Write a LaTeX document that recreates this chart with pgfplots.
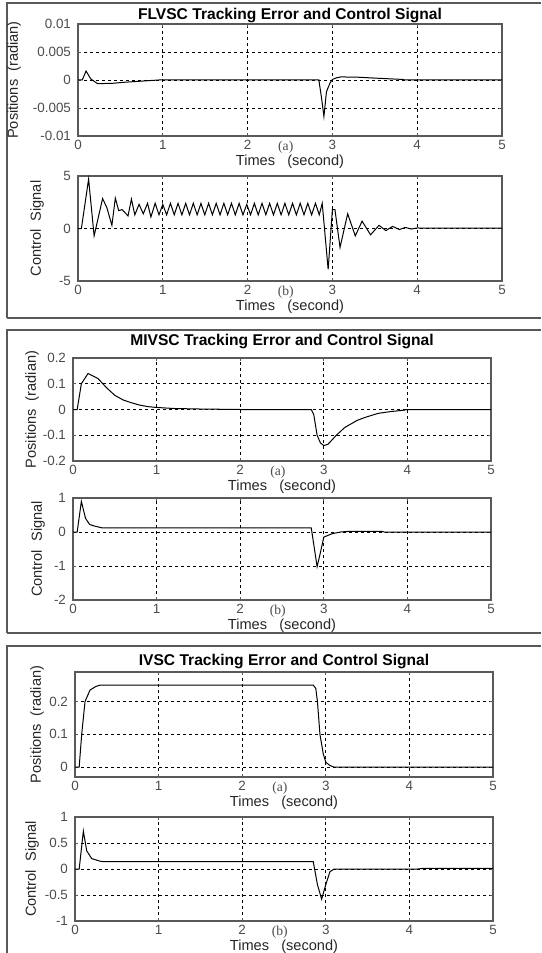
\documentclass[border=0pt]{standalone}
\usepackage{pgfplots}
\pgfplotsset{compat=1.18}
\usepackage{fontspec}
\setmainfont{Liberation Sans}
\newfontfamily\seriffont{Liberation Serif}
\definecolor{frame}{gray}{0.35}
\definecolor{tl}{gray}{0.3}
\pgfplotsset{
  every axis title/.style={at={(0.5,1)}, anchor=center, font=\bfseries\fontsize{7.8}{9}\selectfont},
  ms/.style={
    scale only axis,
    scaled y ticks=false,
    xmin=0, xmax=5,
    xtick={0,1,2,3,4,5},
    xticklabels={0,1,2,3,4,5},
    grid=major,
    grid style={black, dashed, line width=0.4pt, dash pattern=on 1.5pt off 1.5pt},
    axis line style={frame, line width=0.7pt},
    major tick length=1.5pt,
    tick style={frame, line width=0.4pt},
    tick align=inside,
    ticklabel style={font=\fontsize{6.7}{8}\selectfont, text=tl},
    xticklabel style={yshift=1.5pt},
    label style={font=\fontsize{7.3}{8.5}\selectfont, text=black!85},
    xlabel={Times\ \ \ (second)},
    xlabel style={yshift=4pt},
    clip=false,
    anchor=north west,
  },
  yl/.style={ylabel style={at={(rel axis cs:0,0.5)}, anchor=center, yshift=#1}},
  cur/.style={black, line width=0.5pt, mark=none},
}
\newcommand{\tag}[1]{\node[font=\seriffont\fontsize{6.8}{7}\selectfont, text=tl, anchor=north] at (rel axis cs:0.49,0) [yshift=1pt] {#1};}
\begin{document}
\begin{tikzpicture}
\useasboundingbox (0,0) rectangle (270.5pt,-476.5pt);
% panel boxes
\draw[frame, line width=0.7pt] (3.5pt,-159pt) -- (3.5pt,-1.5pt) -- (270.5pt,-1.5pt);
\draw[frame, line width=0.7pt] (3.5pt,-159pt) -- (270.5pt,-159pt);
\draw[frame, line width=0.7pt] (3.5pt,-316.5pt) -- (3.5pt,-165pt) -- (270.5pt,-165pt);
\draw[frame, line width=0.7pt] (3.5pt,-316.5pt) -- (270.5pt,-316.5pt);
\draw[frame, line width=0.7pt] (3.5pt,-476.5pt) -- (3.5pt,-323pt) -- (270.5pt,-323pt);

% ===== Panel 1 (a)
\begin{axis}[ms, at={(39pt,-12pt)}, width=212pt, height=56pt, yl=32pt,
  title={FLVSC Tracking Error and Control Signal},
  title style={yshift=4.25pt},
  ymin=-0.01, ymax=0.01, ytick={-0.01,-0.005,0,0.005,0.01},
  yticklabels={-0.01,-0.005,0,0.005,0.01},
  ylabel={Positions\ \ (radian)}]
\addplot[cur] coordinates {
(0,0) (0.05,0) (0.095,0.0016) (0.15,0.0002) (0.23,-0.00065) (0.4,-0.0006) (0.55,-0.0004)
(0.75,-0.0002) (0.95,0) (1.5,0) (2.84,0) (2.87,-0.003) (2.90,-0.0065) (2.93,-0.0021)
(2.97,-0.0006) (3.0,0.0001) (3.05,0.0004) (3.1,0.00055) (3.3,0.0005) (3.55,0.0003)
(3.83,0.0001) (3.85,0) (5,0)};
\tag{(a)}
\end{axis}

% ===== Panel 1 (b)
\begin{axis}[ms, at={(39pt,-88pt)}, width=212pt, height=52.5pt, yl=20.5pt,
  ymin=-5, ymax=5, ytick={-5,0,5}, yticklabels={-5,0,5},
  ylabel={Control\ \ Signal}]
\addplot[cur] coordinates {
(0,0) (0.04,0) (0.125,4.7) (0.19,-0.7) (0.29,2.85) (0.34,2.0) (0.40,0.3) (0.44,2.9)
(0.48,1.7) (0.52,1.8) (0.59,1.2) (0.63,2.8) (0.67,1.3) (0.72,2.3) (0.77,1.4) (0.82,2.4)
(0.86,1.1) (0.91,2.4) (0.955,1.3) (1.00,2.3) (1.045,1.3) (1.09,2.4) (1.135,1.3)
(1.18,2.4) (1.225,1.3) (1.27,2.4) (1.315,1.3) (1.36,2.4) (1.405,1.3) (1.45,2.4)
(1.495,1.3) (1.54,2.4) (1.585,1.3) (1.63,2.4) (1.675,1.3) (1.72,2.4) (1.765,1.3)
(1.81,2.4) (1.855,1.3) (1.90,2.4) (1.945,1.3) (1.99,2.3) (2.035,1.3) (2.08,2.4)
(2.125,1.3) (2.17,2.4) (2.215,1.3) (2.26,2.4) (2.305,1.3) (2.35,2.4) (2.395,1.3)
(2.44,2.4) (2.485,1.3) (2.53,2.4) (2.575,1.3) (2.62,2.4) (2.665,1.3) (2.71,2.4)
(2.755,1.3) (2.80,2.4) (2.845,1.3) (2.88,2.4) (2.95,-3.9) (3.00,1.8) (3.03,1.8)
(3.09,-1.8) (3.18,1.4) (3.27,-0.7) (3.35,0.7) (3.45,-0.6) (3.55,0.3) (3.63,-0.2)
(3.71,0.2) (3.79,-0.1) (3.86,0.1) (3.93,-0.05) (4.0,0.05) (4.2,0.03) (5,0.03)};
\tag{(b)}
\end{axis}

% ===== Panel 2 (a)
\begin{axis}[ms, at={(36.5pt,-179pt)}, width=209pt, height=51.5pt, yl=20.5pt,
  title={MIVSC Tracking Error and Control Signal},
  title style={yshift=8.25pt},
  ymin=-0.2, ymax=0.2, ytick={-0.2,-0.1,0,0.1,0.2},
  yticklabels={-0.2,-0.1,0,0.1,0.2},
  ylabel={Positions\ \ (radian)}]
\addplot[cur] coordinates {
(0,0) (0.05,0) (0.1,0.1) (0.18,0.14) (0.3,0.12) (0.4,0.085) (0.5,0.055) (0.6,0.037)
(0.7,0.026) (0.8,0.017) (0.9,0.011) (1.0,0.008) (1.2,0.004) (1.5,0.002) (2.0,0)
(2.85,0) (2.88,-0.02) (2.92,-0.1) (2.96,-0.13) (3.0,-0.14) (3.05,-0.135) (3.15,-0.1)
(3.25,-0.07) (3.4,-0.042) (3.5,-0.03) (3.65,-0.015) (3.8,-0.008) (3.95,-0.003) (4.0,0) (5,0)};
\tag{(a)}
\end{axis}

% ===== Panel 2 (b)
\begin{axis}[ms, at={(36.5pt,-249pt)}, width=209pt, height=51pt, yl=17.5pt,
  ymin=-2, ymax=1, ytick={-2,-1,0,1}, yticklabels={-2,-1,0,1},
  ylabel={Control\ \ Signal}]
\addplot[cur] coordinates {
(0,0) (0.05,0) (0.1,0.9) (0.15,0.4) (0.2,0.22) (0.25,0.18) (0.35,0.12) (2.85,0.12)
(2.92,-1.02) (2.96,-0.6) (3.0,-0.15) (3.1,-0.05) (3.2,0) (3.3,0.02) (3.7,0.02) (3.72,0) (5,0)};
\tag{(b)}
\end{axis}

% ===== Panel 3 (a)
\begin{axis}[ms, at={(37.5pt,-336pt)}, width=209pt, height=52.5pt, yl=19pt,
  title={IVSC Tracking Error and Control Signal},
  title style={yshift=5.5pt},
  ymin=-0.03, ymax=0.29, ytick={0,0.1,0.2},
  yticklabels={0,0.1,0.2},
  ylabel={Positions\ \ (radian)}]
\addplot[cur] coordinates {
(0,0) (0.05,0) (0.08,0.1) (0.12,0.2) (0.18,0.235) (0.25,0.246) (0.3,0.25) (2.85,0.25)
(2.88,0.24) (2.9,0.2) (2.93,0.1) (2.97,0.04) (3.0,0.015) (3.05,0.005) (3.1,0) (5,0)};
\tag{(a)}
\end{axis}

% ===== Panel 3 (b)
\begin{axis}[ms, at={(37.5pt,-408.5pt)}, width=209pt, height=52pt, yl=21.5pt,
  ymin=-1, ymax=1, ytick={-1,-0.5,0,0.5,1}, yticklabels={-1,-0.5,0,0.5,1},
  ylabel={Control\ \ Signal}]
\addplot[cur] coordinates {
(0,0) (0.05,0) (0.1,0.73) (0.14,0.35) (0.2,0.2) (0.3,0.15) (0.35,0.14) (2.85,0.14)
(2.9,-0.3) (2.95,-0.58) (3.0,-0.3) (3.05,-0.05) (3.1,0) (4.1,0) (4.15,0.01) (5,0.01)};
\tag{(b)}
\end{axis}
\end{tikzpicture}
\end{document}
